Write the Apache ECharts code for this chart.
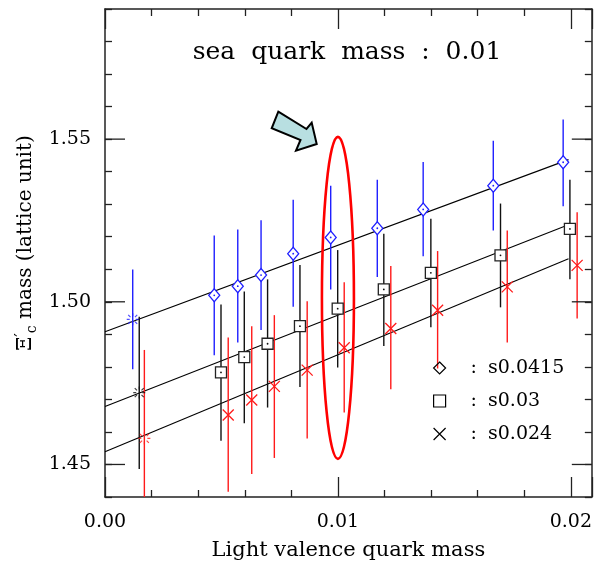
<!DOCTYPE html>
<html><head><meta charset="utf-8">
<script src="https://cdn.jsdelivr.net/npm/echarts@6/dist/echarts.min.js"></script>
<style>html,body{margin:0;padding:0;background:#fff}#c{width:595px;height:566px}</style>
</head><body><div id="c"></div>
<script>
const FONT = 'DejaVu Serif';
const seriesNames = ['s0.0415', 's0.03', 's0.024'];
const xTickValues = [0, 0.01, 0.02];
const xTickLabels = ['0.00', '0.01', '0.02'];
const yTickValues = [1.45, 1.50, 1.55];
const yTickLabels = ['1.45', '1.50', '1.55'];
const titleText = 'sea  quark  mass  :  0.01';
const xName = 'Light valence quark mass';

// s0.0415 (diamonds)
const bX  = [0.00469, 0.00570, 0.00670, 0.00808, 0.00969, 0.01169, 0.01366, 0.01667, 0.01967];
const bY  = [1.5020, 1.5048, 1.5082, 1.5148, 1.5198, 1.5226, 1.5284, 1.5357, 1.5429];
const bLo = [1.4836, 1.4875, 1.4913, 1.4985, 1.5038, 1.5076, 1.5140, 1.5219, 1.5294];
const bHi = [1.5204, 1.5222, 1.5251, 1.5314, 1.5357, 1.5375, 1.5430, 1.5495, 1.5560];
// s0.03 (squares)
const kX  = [0.00498, 0.00598, 0.00698, 0.00837, 0.00999, 0.01197, 0.01399, 0.01698, 0.01996];
const kY  = [1.4783, 1.4830, 1.4871, 1.4925, 1.4979, 1.5038, 1.5089, 1.5143, 1.5224];
const kLo = [1.4573, 1.4627, 1.4675, 1.4738, 1.4798, 1.4864, 1.4922, 1.4983, 1.5069];
const kHi = [1.4992, 1.5032, 1.5069, 1.5113, 1.5159, 1.5209, 1.5255, 1.5302, 1.5375];
// s0.024 (crosses)
const rX  = [0.00529, 0.00630, 0.00727, 0.00868, 0.01027, 0.01227, 0.01428, 0.01727, 0.02027];
const rY  = [1.4652, 1.4698, 1.4740, 1.4790, 1.4859, 1.4918, 1.4974, 1.5046, 1.5112];
const rLo = [1.4416, 1.4471, 1.4520, 1.4580, 1.4660, 1.4731, 1.4795, 1.4875, 1.4949];
const rHi = [1.4890, 1.4925, 1.4959, 1.5002, 1.5060, 1.5110, 1.5156, 1.5219, 1.5275];
// chiral-limit extrapolated points (s0.0415, s0.03, s0.024)
const chX  = [0.00119, 0.00147, 0.00169];
const chY  = [1.4946, 1.4721, 1.4580];
const chLo = [1.4793, 1.4486, 1.4308];
const chHi = [1.5099, 1.4954, 1.4852];
// linear fits
const fitX = [0, 0.0199];
const fitB = [1.4908, 1.5437];
const fitK = [1.4678, 1.5237];
const fitR = [1.4539, 1.5132];

const BLUE = '#1f1fff', RED = '#ff1a1a', BLACK = '#111';
const chColors = [BLUE, BLACK, RED];
const AXC = '#222';

const zip4 = (a, b, c, d) => a.map((v, i) => [v, b[i], c[i], d[i]]);
const zip2 = (a, b) => a.map((v, i) => [v, b[i]]);

function errRender(colorFn, dot) {
  return function (params, api) {
    const x = api.value(0), lo = api.value(1), hi = api.value(2), y = api.value(3);
    const p1 = api.coord([x, lo]), p2 = api.coord([x, hi]), pc = api.coord([x, y]);
    const col = colorFn(params.dataIndex);
    const children = [{
      type: 'line',
      shape: { x1: p1[0], y1: p1[1], x2: p2[0], y2: p2[1] },
      style: { stroke: col, lineWidth: 1.4 }
    }];
    if (dot) children.push({ type: 'circle', z2: 100, shape: { cx: pc[0], cy: pc[1], r: 0.9 }, style: { fill: col } });
    return { type: 'group', children: children };
  };
}
function errSeries(name, data, colorFn, dot) {
  return { type: 'custom', name: name, data: data, renderItem: errRender(colorFn, false),
           clip: true, z: 2, silent: true, encode: { x: 0, y: [1, 2] } };
}
function dotSeries(name, data, colorFn) {
  return { type: 'custom', name: name, data: data, renderItem: function (params, api) {
             const pc = api.coord([api.value(0), api.value(3)]);
             return { type: 'circle', shape: { cx: pc[0], cy: pc[1], r: 0.9 }, style: { fill: colorFn(params.dataIndex) } };
           }, clip: true, z: 6, silent: true, encode: { x: 0, y: 3 } };
}
function fitSeries(name, ys) {
  return { type: 'line', name: name, data: zip2(fitX, ys), symbol: 'none', z: 1,
           lineStyle: { color: '#000', width: 1.1 }, silent: true };
}
// long (major) y ticks on both frame sides
function majorTickRender(params, api) {
  const cs = params.coordSys;
  const p = api.coord([0, api.value(0)]);
  const st = { stroke: AXC, lineWidth: 1.3 };
  return { type: 'group', children: [
    { type: 'line', shape: { x1: cs.x, y1: p[1], x2: cs.x + 20, y2: p[1] }, style: st },
    { type: 'line', shape: { x1: cs.x + cs.width - 20, y1: p[1], x2: cs.x + cs.width, y2: p[1] }, style: st }
  ] };
}
const CROSS = 'path://M0,0L10,10M10,0L0,10';
const BURST = 'path://M12,0L12,6M12,18L12,24M0,12L6,12M18,12L24,12M3,3L7.5,7.5M16.5,16.5L21,21M21,3L16.5,7.5M3,21L7.5,16.5';

function xAx(pos, labels) {
  return {
    type: 'value', position: pos, min: 0, max: 0.0209, interval: 0.01,
    axisLine: { show: true, onZero: false, lineStyle: { color: AXC, width: 1.5 } },
    axisTick: { show: true, inside: true, length: 20, lineStyle: { color: AXC, width: 1.3 } },
    minorTick: { show: true, splitNumber: 5, length: 7, lineStyle: { color: AXC, width: 1.3 } },
    splitLine: { show: false }, minorSplitLine: { show: false },
    axisLabel: labels ? {
      show: true, margin: 16, fontFamily: FONT, fontSize: 19, color: '#000',
      formatter: v => { const i = xTickValues.findIndex(t => Math.abs(t - v) < 1e-9); return i >= 0 ? xTickLabels[i] : ''; }
    } : { show: false },
    name: labels ? xName : '', nameLocation: 'middle', nameGap: 43,
    nameTextStyle: { fontFamily: FONT, fontSize: 21, color: '#000' }
  };
}
function yAx(pos, labels) {
  return {
    type: 'value', position: pos, min: 1.44, max: 1.59, interval: 0.01, offset: 0,
    axisLine: { show: true, onZero: false, lineStyle: { color: AXC, width: 1.5 } },
    axisTick: { show: true, inside: true, length: 7, lineStyle: { color: AXC, width: 1.3 } },
    splitLine: { show: false },
    axisLabel: labels ? {
      show: true, margin: 14, fontFamily: FONT, fontSize: 19, color: '#000',
      formatter: v => { const i = yTickValues.findIndex(t => Math.abs(t - v) < 1e-6); return i >= 0 ? yTickLabels[i] : ''; }
    } : { show: false }
  };
}

const chart = echarts.init(document.getElementById('c'), null, { renderer: 'canvas' });
const bData = zip4(bX, bLo, bHi, bY), kData = zip4(kX, kLo, kHi, kY), rData = zip4(rX, rLo, rHi, rY);
const option = {
  animation: false,
  backgroundColor: '#fff',
  grid: { left: 105, right: 3, top: 9, bottom: 68 },
  xAxis: [xAx('bottom', true), xAx('top', false)],
  yAxis: [yAx('left', true), yAx('right', false)],
  legend: {
    orient: 'vertical', left: 428, top: 353, itemGap: 13, itemWidth: 12, itemHeight: 12,
    selectedMode: false,
    formatter: n => '{c|:}{t|' + n + '}',
    textStyle: {
      fontFamily: FONT, fontSize: 19, color: '#000', lineHeight: 20,
      rich: { c: { fontFamily: FONT, fontSize: 19, padding: [0, 0, 0, 20] },
              t: { fontFamily: FONT, fontSize: 19, padding: [0, 0, 0, 11] } }
    },
    data: [
      { name: seriesNames[0], icon: 'diamond', itemStyle: { color: 'transparent', borderColor: '#000', borderWidth: 1.2 } },
      { name: seriesNames[1], icon: 'rect', itemStyle: { color: 'transparent', borderColor: '#000', borderWidth: 1.2 } },
      { name: seriesNames[2], icon: CROSS, itemStyle: { color: 'transparent', borderColor: '#000', borderWidth: 1.2 } }
    ]
  },
  series: [
    { type: 'custom', name: 'majorTicks', data: yTickValues.map(v => [v]), renderItem: majorTickRender,
      encode: { y: 0 }, silent: true, z: 3 },
    fitSeries('fitB', fitB), fitSeries('fitK', fitK), fitSeries('fitR', fitR),
    errSeries('errB', bData, () => BLUE),
    errSeries('errK', kData, () => BLACK),
    errSeries('errR', rData, () => RED),
    errSeries('errCh', zip4(chX, chLo, chHi, chY), i => chColors[i]),
    { type: 'scatter', name: seriesNames[0], data: zip2(bX, bY), symbol: 'diamond', symbolSize: [11, 13], z: 5,
      itemStyle: { color: '#fff', borderColor: BLUE, borderWidth: 1.3, opacity: 1 } },
    { type: 'scatter', name: seriesNames[1], data: zip2(kX, kY), symbol: 'rect', symbolSize: 11, z: 5,
      itemStyle: { color: '#fff', borderColor: '#222', borderWidth: 1.3, opacity: 1 } },
    { type: 'scatter', name: seriesNames[2], data: zip2(rX, rY), symbol: CROSS, symbolSize: 11, z: 5,
      itemStyle: { color: 'transparent', borderColor: RED, borderWidth: 1.3, opacity: 1 } },
    dotSeries('dotB', bData, () => BLUE),
    dotSeries('dotK', kData, () => BLACK),
    { type: 'scatter', name: 'chiral', symbol: BURST, symbolSize: 12, z: 5,
      data: chX.map((x, i) => ({ value: [x, chY[i]], itemStyle: { color: 'transparent', borderColor: chColors[i], borderWidth: 1.2 } })) }
  ]
};
chart.setOption(option);

const c = chart.convertToPixel({ xAxisIndex: 0, yAxisIndex: 0 }, [0.01, 1.5012]);
chart.setOption({
  graphic: [
    { type: 'text', x: 347, y: 52, z: 10,
      style: { text: titleText, font: '25px "DejaVu Serif"', fill: '#000', align: 'center', verticalAlign: 'middle' } },
    { type: 'ellipse', z: 10, shape: { cx: c[0], cy: c[1], rx: 16, ry: 161 },
      style: { fill: 'none', stroke: '#ff0000', lineWidth: 2.6 } },
    { type: 'polygon', z: 10,
      shape: { points: [[278.3, 111.7], [306.5, 129.0], [311.7, 122.7], [316.7, 144.0], [296.0, 150.7], [300.5, 140.0], [271.7, 128.3]] },
      style: { fill: '#b8dfe1', stroke: '#000', lineWidth: 2, lineJoin: 'miter' } },
    { type: 'text', x: 26, y: 243, rotation: Math.PI / 2, z: 10,
      style: { text: '{g|Ξ}{p|′}{s|c}{g| mass (lattice unit)}', align: 'center', verticalAlign: 'middle', fill: '#000',
        rich: { g: { fontFamily: FONT, fontSize: 20 },
                p: { fontFamily: FONT, fontSize: 16, padding: [0, 0, 9, 0] },
                s: { fontFamily: FONT, fontSize: 14, padding: [12, 0, 0, 0] } } } }
  ]
});
</script></body></html>
